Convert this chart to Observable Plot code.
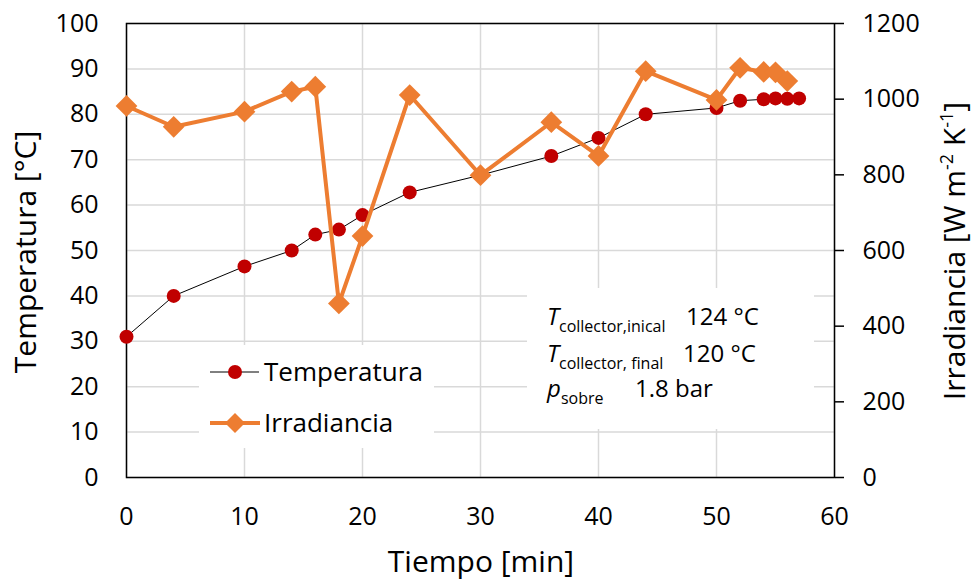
<!DOCTYPE html>
<html><head><meta charset="utf-8">
<script src="https://cdn.jsdelivr.net/npm/d3@7"></script>
<script src="https://cdn.jsdelivr.net/npm/@observablehq/plot@0.6"></script>
<style>body{margin:0;background:#fff;} svg{display:block;}</style>
</head><body><div id="chart"></div>
<script>
// ---- data ----
const tempTime = [0, 4, 10, 14, 16, 18, 20, 24, 30, 36, 40, 44, 50, 52, 54, 55, 56, 57];
const temperatura = [31, 40, 46.5, 50, 53.5, 54.6, 57.8, 62.8, 66.6, 70.8, 74.8, 80, 81.4, 83, 83.3, 83.5, 83.4, 83.5];
const irrTime = [0, 4, 10, 14, 16, 18, 20, 24, 30, 36, 40, 44, 50, 52, 54, 55, 56];
const irradiancia = [982, 927, 967, 1020, 1033, 460, 638, 1011, 799, 939, 850, 1074, 998, 1083, 1072, 1071, 1048];
const xTicks = [0, 10, 20, 30, 40, 50, 60];
const yTicks = [0, 10, 20, 30, 40, 50, 60, 70, 80, 90, 100];
const irrTicks = [0, 200, 400, 600, 800, 1000, 1200];
const IRR_FACTOR = 12; // right axis 0–1200 shares the left axis 0–100

const W = 973, H = 582;
const font = "'Open Sans', Lato, sans-serif";
const tempData = tempTime.map((t, i) => ({t, v: temperatura[i]}));
const irrData = irrTime.map((t, i) => ({t, v: irradiancia[i] / IRR_FACTOR}));
const gridStyle = {stroke: "#d9d9d9", strokeOpacity: 1, strokeWidth: 1.5};

const plot = Plot.plot({
  width: W, height: H,
  marginLeft: 126, marginRight: 139, marginTop: 23, marginBottom: 105,
  style: {fontFamily: font, fontSize: "25px", color: "#000", background: "#fff", overflow: "visible"},
  x: {domain: [0, 60]},
  y: {domain: [0, 100]},
  marks: [
    Plot.gridX(xTicks, gridStyle),
    Plot.gridY(yTicks, gridStyle),
    Plot.axisX(xTicks, {tickSize: 0, tickPadding: 30, label: null}),
    Plot.axisY(yTicks, {anchor: "left", tickSize: 0, tickPadding: 28, label: null}),
    Plot.axisY(irrTicks.map(v => v / IRR_FACTOR), {anchor: "right", tickSize: 9, tickPadding: 19,
      tickFormat: d => String(Math.round(d * IRR_FACTOR)), label: null, strokeWidth: 1.5}),
    Plot.frame({stroke: "#000", strokeWidth: 1.5}),
    Plot.line(tempData, {x: "t", y: "v", stroke: "#000", strokeWidth: 1}),
    Plot.dot(tempData, {x: "t", y: "v", r: 7, fill: "#c00000"}),
    Plot.line(irrData, {x: "t", y: "v", stroke: "#ed7d31", strokeWidth: 4}),
    Plot.dot(irrData, {x: "t", y: "v", symbol: "diamond2", r: 9.8, fill: "#ed7d31"})
  ]
});
document.getElementById("chart").appendChild(plot);

const svg = d3.select(plot);
const g = svg.append("g").attr("font-family", font).attr("fill", "#000").attr("text-anchor", "start");

// axis titles
g.append("text").attr("x", 481).attr("y", 572).attr("text-anchor", "middle")
  .attr("font-size", 30).text("Tiempo [min]");
g.append("text").attr("transform", "translate(36,252) rotate(-90)").attr("text-anchor", "middle")
  .attr("font-size", 30).text("Temperatura [°C]");
const rl = g.append("text").attr("transform", "translate(965,251) rotate(-90)").attr("text-anchor", "middle")
  .attr("font-size", 30);
rl.append("tspan").text("Irradiancia [W m");
rl.append("tspan").attr("font-size", 18).attr("dy", -12).text("-2");
rl.append("tspan").attr("dy", 12).text(" K");
rl.append("tspan").attr("font-size", 18).attr("dy", -12).text("-1");
rl.append("tspan").attr("dy", 12).text("]");

// legend
g.append("rect").attr("x", 199).attr("y", 345).attr("width", 235).attr("height", 103).attr("fill", "#fff");
g.append("line").attr("x1", 210).attr("x2", 259).attr("y1", 372).attr("y2", 372).attr("stroke", "#000").attr("stroke-width", 1);
g.append("circle").attr("cx", 235).attr("cy", 372).attr("r", 7).attr("fill", "#c00000");
g.append("text").attr("x", 264).attr("y", 381).attr("font-size", 26).text("Temperatura");
g.append("line").attr("x1", 210).attr("x2", 260).attr("y1", 423).attr("y2", 423).attr("stroke", "#ed7d31").attr("stroke-width", 4);
g.append("path").attr("d", "M235,413L245,423L235,433L225,423Z").attr("fill", "#ed7d31");
g.append("text").attr("x", 264).attr("y", 432).attr("font-size", 26).text("Irradiancia");

// annotation
g.append("rect").attr("x", 527).attr("y", 288).attr("width", 287).attr("height", 141).attr("fill", "#fff");
function annot(sym, sub, val, yb, valX) {
  const t = g.append("text").attr("x", 547).attr("y", yb).attr("font-size", 24);
  t.append("tspan").attr("font-style", "italic").text(sym);
  t.append("tspan").attr("font-size", 16).attr("dy", 7).text(sub);
  g.append("text").attr("x", valX).attr("y", yb).attr("font-size", 24).text(val);
}
annot("T", "collector,inical", "124 °C", 325, 686);
annot("T", "collector, final", "120 °C", 362, 683);
annot("p", "sobre", "1.8 bar", 397, 635);
</script></body></html>
